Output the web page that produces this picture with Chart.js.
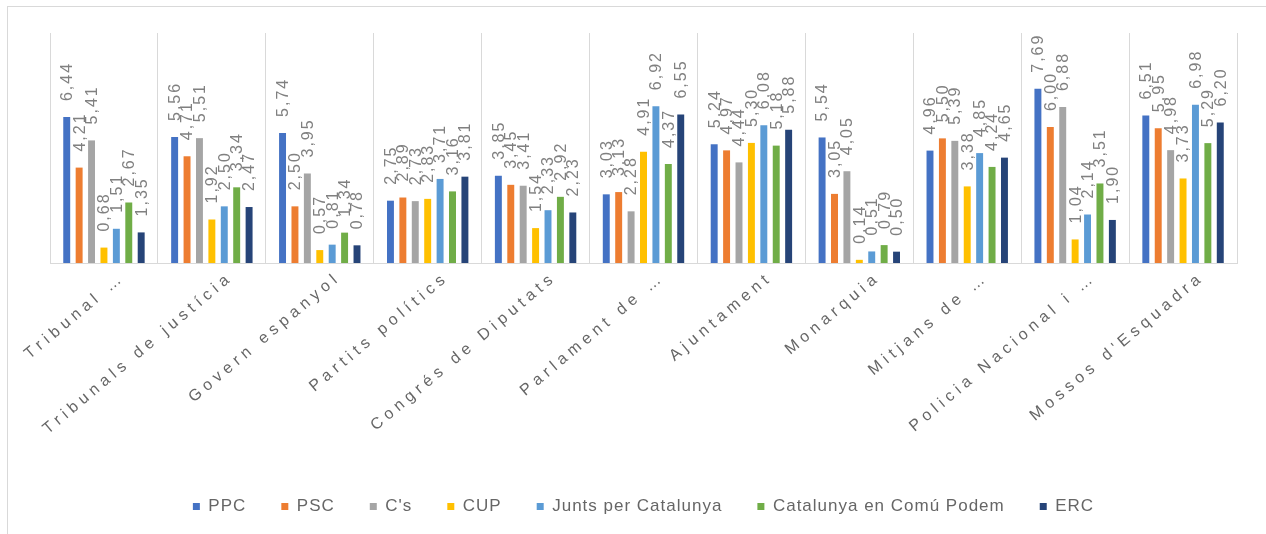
<!DOCTYPE html>
<html>
<head>
<meta charset="utf-8">
<script src="https://cdn.jsdelivr.net/npm/chart.js@4.4.1/dist/chart.umd.min.js"></script>
<style>
    html, body { margin: 0; padding: 0; background: #fff; }
    #wrap { position: absolute; left: 0; top: 0; width: 1266px; height: 534px; }
    .frame {
        position: absolute; left: 7px; top: 6px; right: 0; bottom: 0;
        border-left: 1px solid #d9d9d9; border-top: 1px solid #d9d9d9;
    }
</style>
</head>
<body>
<div id="wrap">
    <div class="frame"></div>
    <canvas id="chart" width="1266" height="534"></canvas>
</div>
<script>
const categories = [
    'Tribunal …',
    'Tribunals de justícia',
    'Govern espanyol',
    'Partits polítics',
    'Congrés de Diputats',
    'Parlament de …',
    'Ajuntament',
    'Monarquia',
    'Mitjans de …',
    'Policia Nacional i …',
    "Mossos d'Esquadra"
];

const parties = ['PPC', 'PSC', "C's", 'CUP', 'Junts per Catalunya', 'Catalunya en Comú Podem', 'ERC'];
const colors = ['#4472C4', '#ED7D31', '#A5A5A5', '#FFC000', '#5B9BD5', '#70AD47', '#264478'];

const ppc   = [6.44, 5.56, 5.74, 2.75, 3.85, 3.03, 5.24, 5.54, 4.96, 7.69, 6.51];
const psc   = [4.21, 4.71, 2.50, 2.89, 3.45, 3.13, 4.97, 3.05, 5.50, 6.00, 5.95];
const cs    = [5.41, 5.51, 3.95, 2.73, 3.41, 2.28, 4.44, 4.05, 5.39, 6.88, 4.98];
const cup   = [0.68, 1.92, 0.57, 2.83, 1.54, 4.91, 5.30, 0.14, 3.38, 1.04, 3.73];
const junts = [1.51, 2.50, 0.81, 3.71, 2.33, 6.92, 6.08, 0.51, 4.85, 2.14, 6.98];
const comu  = [2.67, 3.34, 1.34, 3.16, 2.92, 4.37, 5.18, 0.79, 4.24, 3.51, 5.29];
const erc   = [1.35, 2.47, 0.78, 3.81, 2.23, 6.55, 5.88, 0.50, 4.65, 1.90, 6.20];

const series = [ppc, psc, cs, cup, junts, comu, erc];

// canvas letter spacing per element (Excel-like spaced text)
const spacingPlugin = {
    id: 'spacing',
    beforeLayout(chart) {
        chart.ctx.letterSpacing = '1px';
    },
    beforeDraw(chart) {
        chart.ctx.letterSpacing = '1px';
        const x = chart.scales.x;
        if (!x._spaced) {
            const orig = x.drawLabels;
            x.drawLabels = function (area) {
                const ctx = this.ctx;
                ctx.save();
                ctx.letterSpacing = '4.8px';
                orig.call(this, area);
                ctx.restore();
            };
            x._spaced = true;
        }
    }
};

// rotated value labels above bars
const valueLabels = {
    id: 'valueLabels',
    afterDatasetsDraw(chart) {
        const ctx = chart.ctx;
        ctx.save();
        ctx.letterSpacing = '2px';
        ctx.font = '16px "Liberation Sans", Arial, sans-serif';
        ctx.fillStyle = '#808080';
        ctx.textAlign = 'left';
        ctx.textBaseline = 'middle';
        chart.data.datasets.forEach((ds, i) => {
            chart.getDatasetMeta(i).data.forEach((bar, j) => {
                const txt = ds.data[j].toFixed(2).replace('.', ',');
                ctx.save();
                ctx.translate(bar.x + 1, bar.y - 16);
                ctx.rotate(-Math.PI / 2);
                ctx.fillText(txt, 0, 0);
                ctx.restore();
            });
        });
        ctx.restore();
    }
};

new Chart(document.getElementById('chart'), {
    type: 'bar',
    data: {
        labels: categories,
        datasets: parties.map((name, i) => ({
            label: name,
            data: series[i],
            backgroundColor: colors[i],
            borderWidth: 0,
            barPercentage: 0.56,
            categoryPercentage: 0.805
        }))
    },
    options: {
        responsive: false,
        animation: false,
        layout: {
            padding: { left: 50, right: 29, top: 33, bottom: 9 }
        },
        plugins: {
            tooltip: { enabled: false },
            legend: {
                position: 'bottom',
                labels: {
                    boxWidth: 7,
                    boxHeight: 7,
                    padding: 35,
                    color: '#666666',
                    font: { family: '"Liberation Sans", Arial, sans-serif', size: 17 }
                }
            }
        },
        scales: {
            x: {
                grid: { color: '#d9d9d9', drawTicks: false, offset: true },
                border: { color: '#d9d9d9' },
                ticks: {
                    autoSkip: false,
                    minRotation: 40,
                    maxRotation: 40,
                    labelOffset: 19,
                    padding: 5,
                    color: '#666666',
                    font: { family: '"Liberation Sans", Arial, sans-serif', size: 16 }
                },
                afterFit(scale) {
                    scale.height = 200;
                }
            },
            y: {
                display: false,
                min: 0,
                max: 10.15
            }
        }
    },
    plugins: [spacingPlugin, valueLabels]
});
</script>
</body>
</html>
